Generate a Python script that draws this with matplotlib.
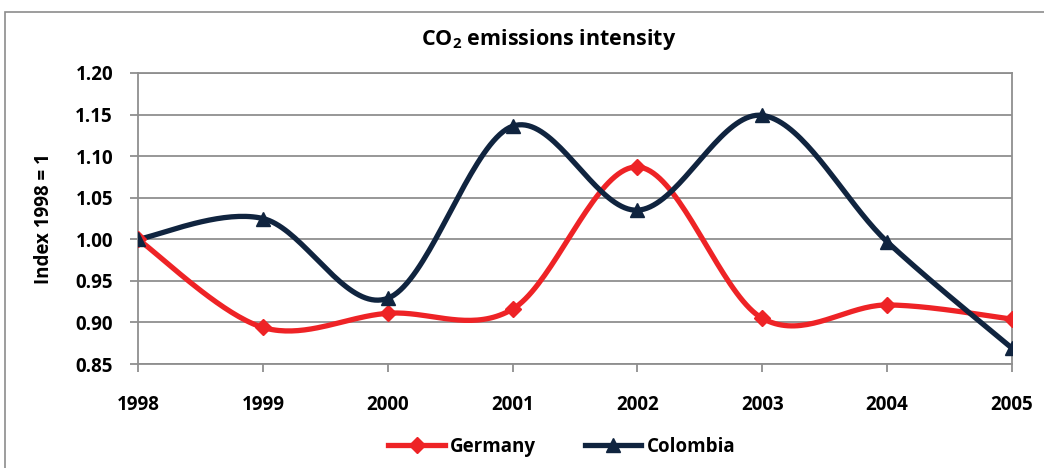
import numpy as np
import matplotlib
matplotlib.use("Agg")
import matplotlib.pyplot as plt
from matplotlib.patches import Rectangle

years = ["1998", "1999", "2000", "2001", "2002", "2003", "2004", "2005"]
germany = [1.000, 0.894, 0.911, 0.916, 1.087, 0.905, 0.921, 0.904]
colombia = [1.000, 1.025, 0.929, 1.136, 1.035, 1.149, 0.997, 0.869]
yticks = [0.85, 0.90, 0.95, 1.00, 1.05, 1.10, 1.15, 1.20]

RED = "#EE2326"
NAVY = "#10243F"
FONT = ["Open Sans", "DejaVu Sans"]
plt.rcParams['font.family'] = FONT
plt.rcParams['font.weight'] = "bold"
plt.rcParams['mathtext.fontset'] = 'custom'
plt.rcParams['mathtext.rm'] = 'Open Sans:bold'
plt.rcParams['mathtext.default'] = 'rm'


def smooth(xs, ys, n=40):
    xs = np.asarray(xs, float)
    ys = np.asarray(ys, float)
    P = np.column_stack([xs, ys])
    out = []
    for i in range(len(P) - 1):
        p0 = P[i - 1] if i > 0 else P[i]
        p1 = P[i]
        p2 = P[i + 1]
        p3 = P[i + 2] if i + 2 < len(P) else P[i + 1]
        c1 = p1 + (p2 - p0) / 6.0
        c2 = p2 - (p3 - p1) / 6.0
        t = np.linspace(0, 1, n)[:, None]
        seg = ((1 - t) ** 3) * p1 + 3 * ((1 - t) ** 2) * t * c1 + 3 * (1 - t) * t ** 2 * c2 + t ** 3 * p2
        if i > 0:
            seg = seg[1:]
        out.append(seg)
    out = np.vstack(out)
    return out[:, 0], out[:, 1]


fig = plt.figure(figsize=(10.44, 4.68), dpi=100)
W, H = 1044, 468
ax = fig.add_axes([138 / W, 1 - 364 / H, (1012 - 138) / W, (364 - 73) / H])

fig.patches.append(Rectangle((5 / W, -0.1), 1.2, 1 - 12 / H + 0.1, transform=fig.transFigure,
                             fill=False, edgecolor="#8C8C8C", linewidth=1.2))

x = np.arange(len(years))
for vals, col, mk, ms, lab in [(germany, RED, "D", 8.5, "Germany"), (colombia, NAVY, "^", 10.5, "Colombia")]:
    sx, sy = smooth(x, vals)
    ax.plot(sx, sy, color=col, linewidth=3.8, solid_capstyle="round", zorder=3)
    ax.plot(x, vals, linestyle="none", marker=mk, markersize=ms, color=col, zorder=4)
    ax.plot([], [], color=col, linewidth=3.8, marker=mk, markersize=ms, label=lab)

ax.set_xlim(0, len(years) - 1)
ax.set_ylim(0.85, 1.20)
ax.set_yticks(yticks)
ax.set_yticklabels([f"{v:.2f}" for v in yticks], fontsize=13.5, fontweight="bold")
ax.set_xticks(x)
ax.set_xticklabels(years, fontsize=13.5, fontweight="bold")
ax.grid(axis="y", color="#8F8F8F", linewidth=1.3)
ax.set_axisbelow(True)
for s in ax.spines.values():
    s.set_color("#8F8F8F")
    s.set_linewidth(1.3)
ax.tick_params(axis="both", direction="out", color="#8F8F8F", width=1.3, length=6)
ax.tick_params(axis="y", pad=12)
ax.tick_params(axis="x", pad=16)

ax.set_ylabel("Index 1998 = 1", fontsize=13.5, fontweight="bold", labelpad=15)
fig.text(549 / W, 1 - 40 / H, "CO$_2$ emissions intensity", ha="center", va="center",
         fontsize=15.5, fontweight="bold")

leg = fig.legend(loc="center", bbox_to_anchor=(562 / W, 1 - 447 / H), ncol=2, frameon=False,
                 prop={"family": FONT, "weight": "bold", "size": 13.5}, handlelength=3.0,
                 columnspacing=2.6, handletextpad=0.3)

fig.savefig("out.png", dpi=100, facecolor="white")
